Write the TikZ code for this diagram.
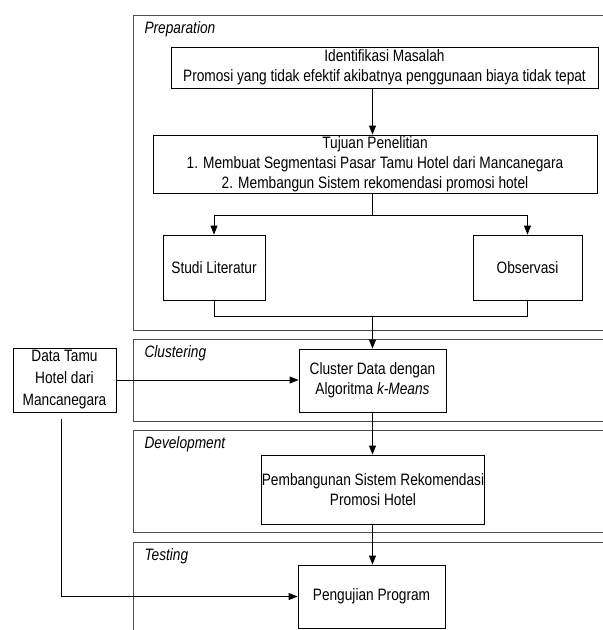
\documentclass[tikz,border=0pt]{standalone}
\usepackage{fontspec}
\setmainfont{Liberation Sans}[FakeStretch=0.83]
\usetikzlibrary{arrows.meta, positioning}

\begin{document}
\begin{tikzpicture} [x = 1pt, y = -1pt, font = \fontsize{16.5}{20}\selectfont,
  box/.style = {draw, line width = 0.8pt, align = center, inner sep = 0pt},
  lane/.style = {draw = black!70, line width = 1pt},
  lanelabel/.style = {anchor = base west, font = \fontsize{16.5}{20}\selectfont\itshape},
  arr/.style = {-{Triangle[length = 9pt, width = 7pt]}, line width = 0.8pt},
  line/.style = {line width = 0.8pt}]
\useasboundingbox (0,0) rectangle (603,630);
\clip (0,0) rectangle (603,630);
% lanes
\draw [lane] (133,15) rectangle (620,330);
\draw [lane] (133,339) rectangle (620,421);
\draw [lane] (133,430) rectangle (620,532);
\draw [lane] (133,542) rectangle (620,660);
\node [lanelabel] (lprep) at (141,33) {Preparation};
\node [lanelabel] (lclus) at (141,357) {Clustering};
\node [lanelabel] (ldev) at (141,448) {Development};
\node [lanelabel] (ltest) at (141,560) {Testing};
% boxes
\node [box, minimum width = 427pt, minimum height = 41pt] (ident) at (384.5,67.5)
  {Identifikasi Masalah\\Promosi yang tidak efektif akibatnya penggunaan biaya tidak tepat};
\node [box, minimum width = 444pt, minimum height = 58pt] (tujuan) at (375,164)
  {Tujuan Penelitian\\1. Membuat Segmentasi Pasar Tamu Hotel dari Mancanegara\\2. Membangun Sistem rekomendasi promosi hotel};
\node [box, minimum width = 102pt, minimum height = 65pt] (studi) at (214,267.5) {Studi Literatur};
\node [box, minimum width = 109pt, minimum height = 65pt] (obs) at (527.5,267.5) {Observasi};
\node [box, minimum width = 147pt, minimum height = 63pt] (cluster) at (372.5,380.5)
  {Cluster Data dengan\\Algoritma \textit{k-Means}};
\node [box, minimum width = 103pt, minimum height = 64pt, font = \fontsize{16.5}{22}\selectfont] (data) at (64.5,380)
  {Data Tamu\\Hotel dari\\Mancanegara};
\node [box, minimum width = 220pt, minimum height = 69pt] (pemb) at (373,489.5)
  {Pembangunan Sistem Rekomendasi\\Promosi Hotel};
\node [box, minimum width = 147pt, minimum height = 63pt] (uji) at (371.5,596.5) {Pengujian Program};
% connectors
\path (tujuan.south -| cluster) ++(0,22) coordinate (split);
\path (studi.south -| cluster) ++(0,16) coordinate (join);
\coordinate (dtail) at (61,419);
\draw [arr] (ident.south -| cluster) -- (tujuan.north -| cluster);
\draw [line] (tujuan.south -| cluster) -- (split);
\draw [arr] (split) -| (studi.north);
\draw [arr] (split) -| (obs.north);
\draw [line] (studi.south) |- (join) -| (obs.south);
\draw [arr] (join) -- (cluster.north);
\draw [arr] (data.east) -- (data.east -| cluster.west);
\draw [arr] (cluster.south) -- (pemb.north -| cluster);
\draw [arr] (pemb.south -| cluster) -- (uji.north -| cluster);
\draw [arr] (dtail) |- (uji.west);
\end{tikzpicture}
\end{document}
